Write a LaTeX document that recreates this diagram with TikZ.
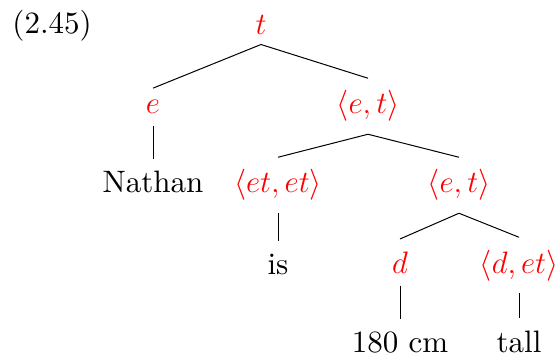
\RequirePackage{fix-cm}
\documentclass[tikz,border=0pt]{standalone}
\usepackage{amsmath}
\usepackage{fontspec}
\setmainfont{lmroman10-regular}[Extension=.otf]
\begin{document}
\begin{tikzpicture}[x=1pt,y=-1pt,line width=1pt,
  every node/.style={font=\fontsize{31}{37}\selectfont,anchor=base,
    inner xsep=2pt,inner ysep=12pt},
  type/.style={text=red}]
\useasboundingbox (0,0) rectangle (559,358);
\node[anchor=base west,inner sep=0pt] (Num) at (12,34) {(2.45)};
\node[type,inner ysep=9pt] (T) at (261,35) {$t$};
\node[type] (E) at (153,114) {$e$};
\node[type] (ET) at (368,114) {$\langle e,t\rangle$};
\node (Nathan) at (153,193) {Nathan};
\node[type] (ETET) at (278,193) {$\langle et,et\rangle$};
\node[type] (ET2) at (459,193) {$\langle e,t\rangle$};
\node (Is) at (278,274) {is};
\node[type] (D) at (400,273) {$d$};
\node[type] (DET) at (519,273) {$\langle d,et\rangle$};
\node (Cm) at (400,352) {180 cm};
\node (Tall) at (519,352) {tall};
\draw (T.south) -- (E.north);
\draw (T.south) -- (ET.north);
\draw (E.south) -- (Nathan.north);
\draw (ET.south) -- (ETET.north);
\draw (ET.south) -- (ET2.north);
\draw (ETET.south) -- (Is.north);
\draw (ET2.south) -- (D.north);
\draw (ET2.south) -- (DET.north);
\draw (D.south) -- (Cm.north);
\draw (DET.south) -- (Tall.north);
\end{tikzpicture}
\end{document}
